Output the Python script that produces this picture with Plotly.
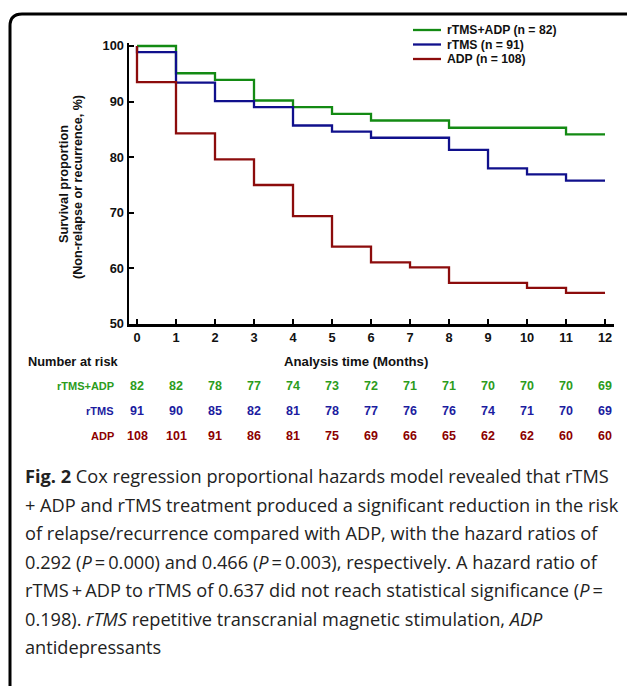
import plotly.graph_objects as go

# ---------------- data ----------------
months = list(range(13))
series_names = ["rTMS+ADP", "rTMS", "ADP"]
series_n = [82, 91, 108]

# step survival curves: (time, survival %)
combo_t = [0, 1, 2, 3, 4, 5, 6, 8, 11, 12]
combo_s = [100, 95.1, 93.9, 90.2, 89.0, 87.8, 86.6, 85.3, 84.1, 84.1]

rtms_t = [0, 0, 1, 2, 3, 4, 5, 6, 8, 9, 10, 11, 12]
rtms_s = [100, 98.9, 93.4, 90.1, 89.0, 85.7, 84.6, 83.5, 81.3, 78.0, 76.9, 75.8, 75.8]

adp_t = [0, 0, 1, 2, 3, 4, 5, 6, 7, 8, 10, 11, 12]
adp_s = [100, 93.5, 84.3, 79.6, 75.0, 69.4, 63.9, 61.1, 60.2, 57.4, 56.5, 55.6, 55.6]

risk_combo = [82, 82, 78, 77, 74, 73, 72, 71, 71, 70, 70, 70, 69]
risk_rtms = [91, 90, 85, 82, 81, 78, 77, 76, 76, 74, 71, 70, 69]
risk_adp = [108, 101, 91, 86, 81, 75, 69, 66, 65, 62, 62, 60, 60]

y_ticks = [50, 60, 70, 80, 90, 100]

caption_lines = [
    "<b>Fig. 2</b> Cox regression proportional hazards model revealed that rTMS",
    "+ ADP and rTMS treatment produced a significant reduction in the risk",
    "of relapse/recurrence compared with ADP, with the hazard ratios of",
    "0.292 (<i>P</i>\u2009=\u20090.000) and 0.466 (<i>P</i>\u2009=\u20090.003), respectively. A hazard ratio of",
    "rTMS\u2009+\u2009ADP to rTMS of 0.637 did not reach statistical significance (<i>P</i>\u2009=",
    "0.198). <i>rTMS</i> repetitive transcranial magnetic stimulation, <i>ADP</i>",
    "antidepressants",
]

# ---------------- style ----------------
W, H = 627, 686
L, R, T, B = 129, 13, 43, 362
PW, PH = W - L - R, H - T - B
line_colors = ["#138a13", "#10108c", "#8c0c0c"]
text_colors = ["#2c9c1c", "#1c1ca0", "#8c0000"]
FONT = "Liberation Sans"


def px(xp):
    return (xp - L) / PW


def py(yp):
    return (H - B - yp) / PH


fig = go.Figure()
for name, t, s, c in zip(series_names, [combo_t, rtms_t, adp_t],
                         [combo_s, rtms_s, adp_s], line_colors):
    fig.add_trace(go.Scatter(x=t, y=s, mode="lines", line=dict(shape="hv", color=c, width=2.3),
                             name=name, showlegend=False, hoverinfo="skip"))

ann = []
shapes = []
# manual legend
for i, (name, n, c) in enumerate(zip(series_names, series_n, line_colors)):
    yy = 30 + i * 14.5
    shapes.append(dict(type="line", xref="paper", yref="paper", x0=px(413), x1=px(441),
                       y0=py(yy), y1=py(yy), line=dict(color=c, width=2.3)))
    ann.append(dict(xref="paper", yref="paper", x=px(445), y=py(yy), xanchor="left", yanchor="middle",
                    text=f"<b>{name} (n = {n})</b>", showarrow=False,
                    font=dict(family=FONT, size=12.2, color="#111")))

# axis labels
ann.append(dict(xref="paper", yref="paper", x=px(63), y=py(184), textangle=-90,
                text="<b>Survival proportion</b>", showarrow=False,
                xanchor="center", yanchor="middle", font=dict(family=FONT, size=12.8, color="#111")))
ann.append(dict(xref="paper", yref="paper", x=px(78), y=py(187), textangle=-90,
                text="<b>(Non-relapse or recurrence, %)</b>", showarrow=False,
                xanchor="center", yanchor="middle", font=dict(family=FONT, size=12.6, color="#111")))
ann.append(dict(xref="paper", yref="paper", x=px(356), y=py(361), text="<b>Analysis time (Months)</b>",
                showarrow=False, xanchor="center", yanchor="middle",
                font=dict(family=FONT, size=13.2, color="#111")))
ann.append(dict(xref="paper", yref="paper", x=px(26), y=py(361), text="<b>Number at risk</b>",
                showarrow=False, xanchor="left", yanchor="middle",
                font=dict(family=FONT, size=12.8, color="#111")))

# number at risk table
for i, (name, risk, c) in enumerate(zip(series_names, [risk_combo, risk_rtms, risk_adp], text_colors)):
    yy = 386 + i * 25
    ann.append(dict(xref="paper", yref="paper", x=px(116), y=py(yy), text=f"<b>{name}</b>",
                    showarrow=False, xanchor="right", yanchor="middle",
                    font=dict(family=FONT, size=11, color=c)))
    for m, v in zip(months, risk):
        ann.append(dict(xref="x", yref="paper", x=m, y=py(yy), text=f"<b>{v}</b>",
                        showarrow=False, xanchor="center", yanchor="middle",
                        font=dict(family=FONT, size=12.5, color=c)))

# caption
for k, line in enumerate(caption_lines):
    yy = 476 + k * 28.5
    ann.append(dict(xref="paper", yref="paper", x=px(23), y=py(yy), text=line,
                    showarrow=False, xanchor="left", yanchor="middle",
                    font=dict(family="Open Sans", size=18.2, color="#222")))

# rounded frame (open to the right and bottom)
fx, fy, rr = 10, 14, 12
path = (f"M {px(fx)},{py(H + 20)} L {px(fx)},{py(fy + rr)} "
        f"Q {px(fx)},{py(fy)} {px(fx + rr)},{py(fy)} L {px(W + 20)},{py(fy)}")
shapes.append(dict(type="path", xref="paper", yref="paper", path=path,
                   line=dict(color="#000", width=3)))

fig.update_layout(
    width=W, height=H, margin=dict(l=L, r=R, t=T, b=B),
    paper_bgcolor="white", plot_bgcolor="white",
    annotations=ann, shapes=shapes, showlegend=False,
    xaxis=dict(range=[-0.205, 12.23], tickvals=months, ticktext=[f"<b>{m}</b>" for m in months],
               ticks="inside", ticklen=5, tickwidth=2, tickcolor="#000",
               showline=True, linecolor="#000", linewidth=2.5, showgrid=False, zeroline=False,
               tickfont=dict(family=FONT, size=12.8, color="#111")),
    yaxis=dict(range=[50, 100.54], tickvals=y_ticks, ticktext=[f"<b>{v}</b>" for v in y_ticks],
               ticks="inside", ticklen=5, tickwidth=2, tickcolor="#000",
               showline=True, linecolor="#000", linewidth=2.5, showgrid=False, zeroline=False,
               tickfont=dict(family=FONT, size=12.8, color="#111")),
)

fig.write_html("out.html", config={"displayModeBar": False, "staticPlot": True},
               post_script="document.body.style.margin='0px';document.body.style.overflow='hidden';")
